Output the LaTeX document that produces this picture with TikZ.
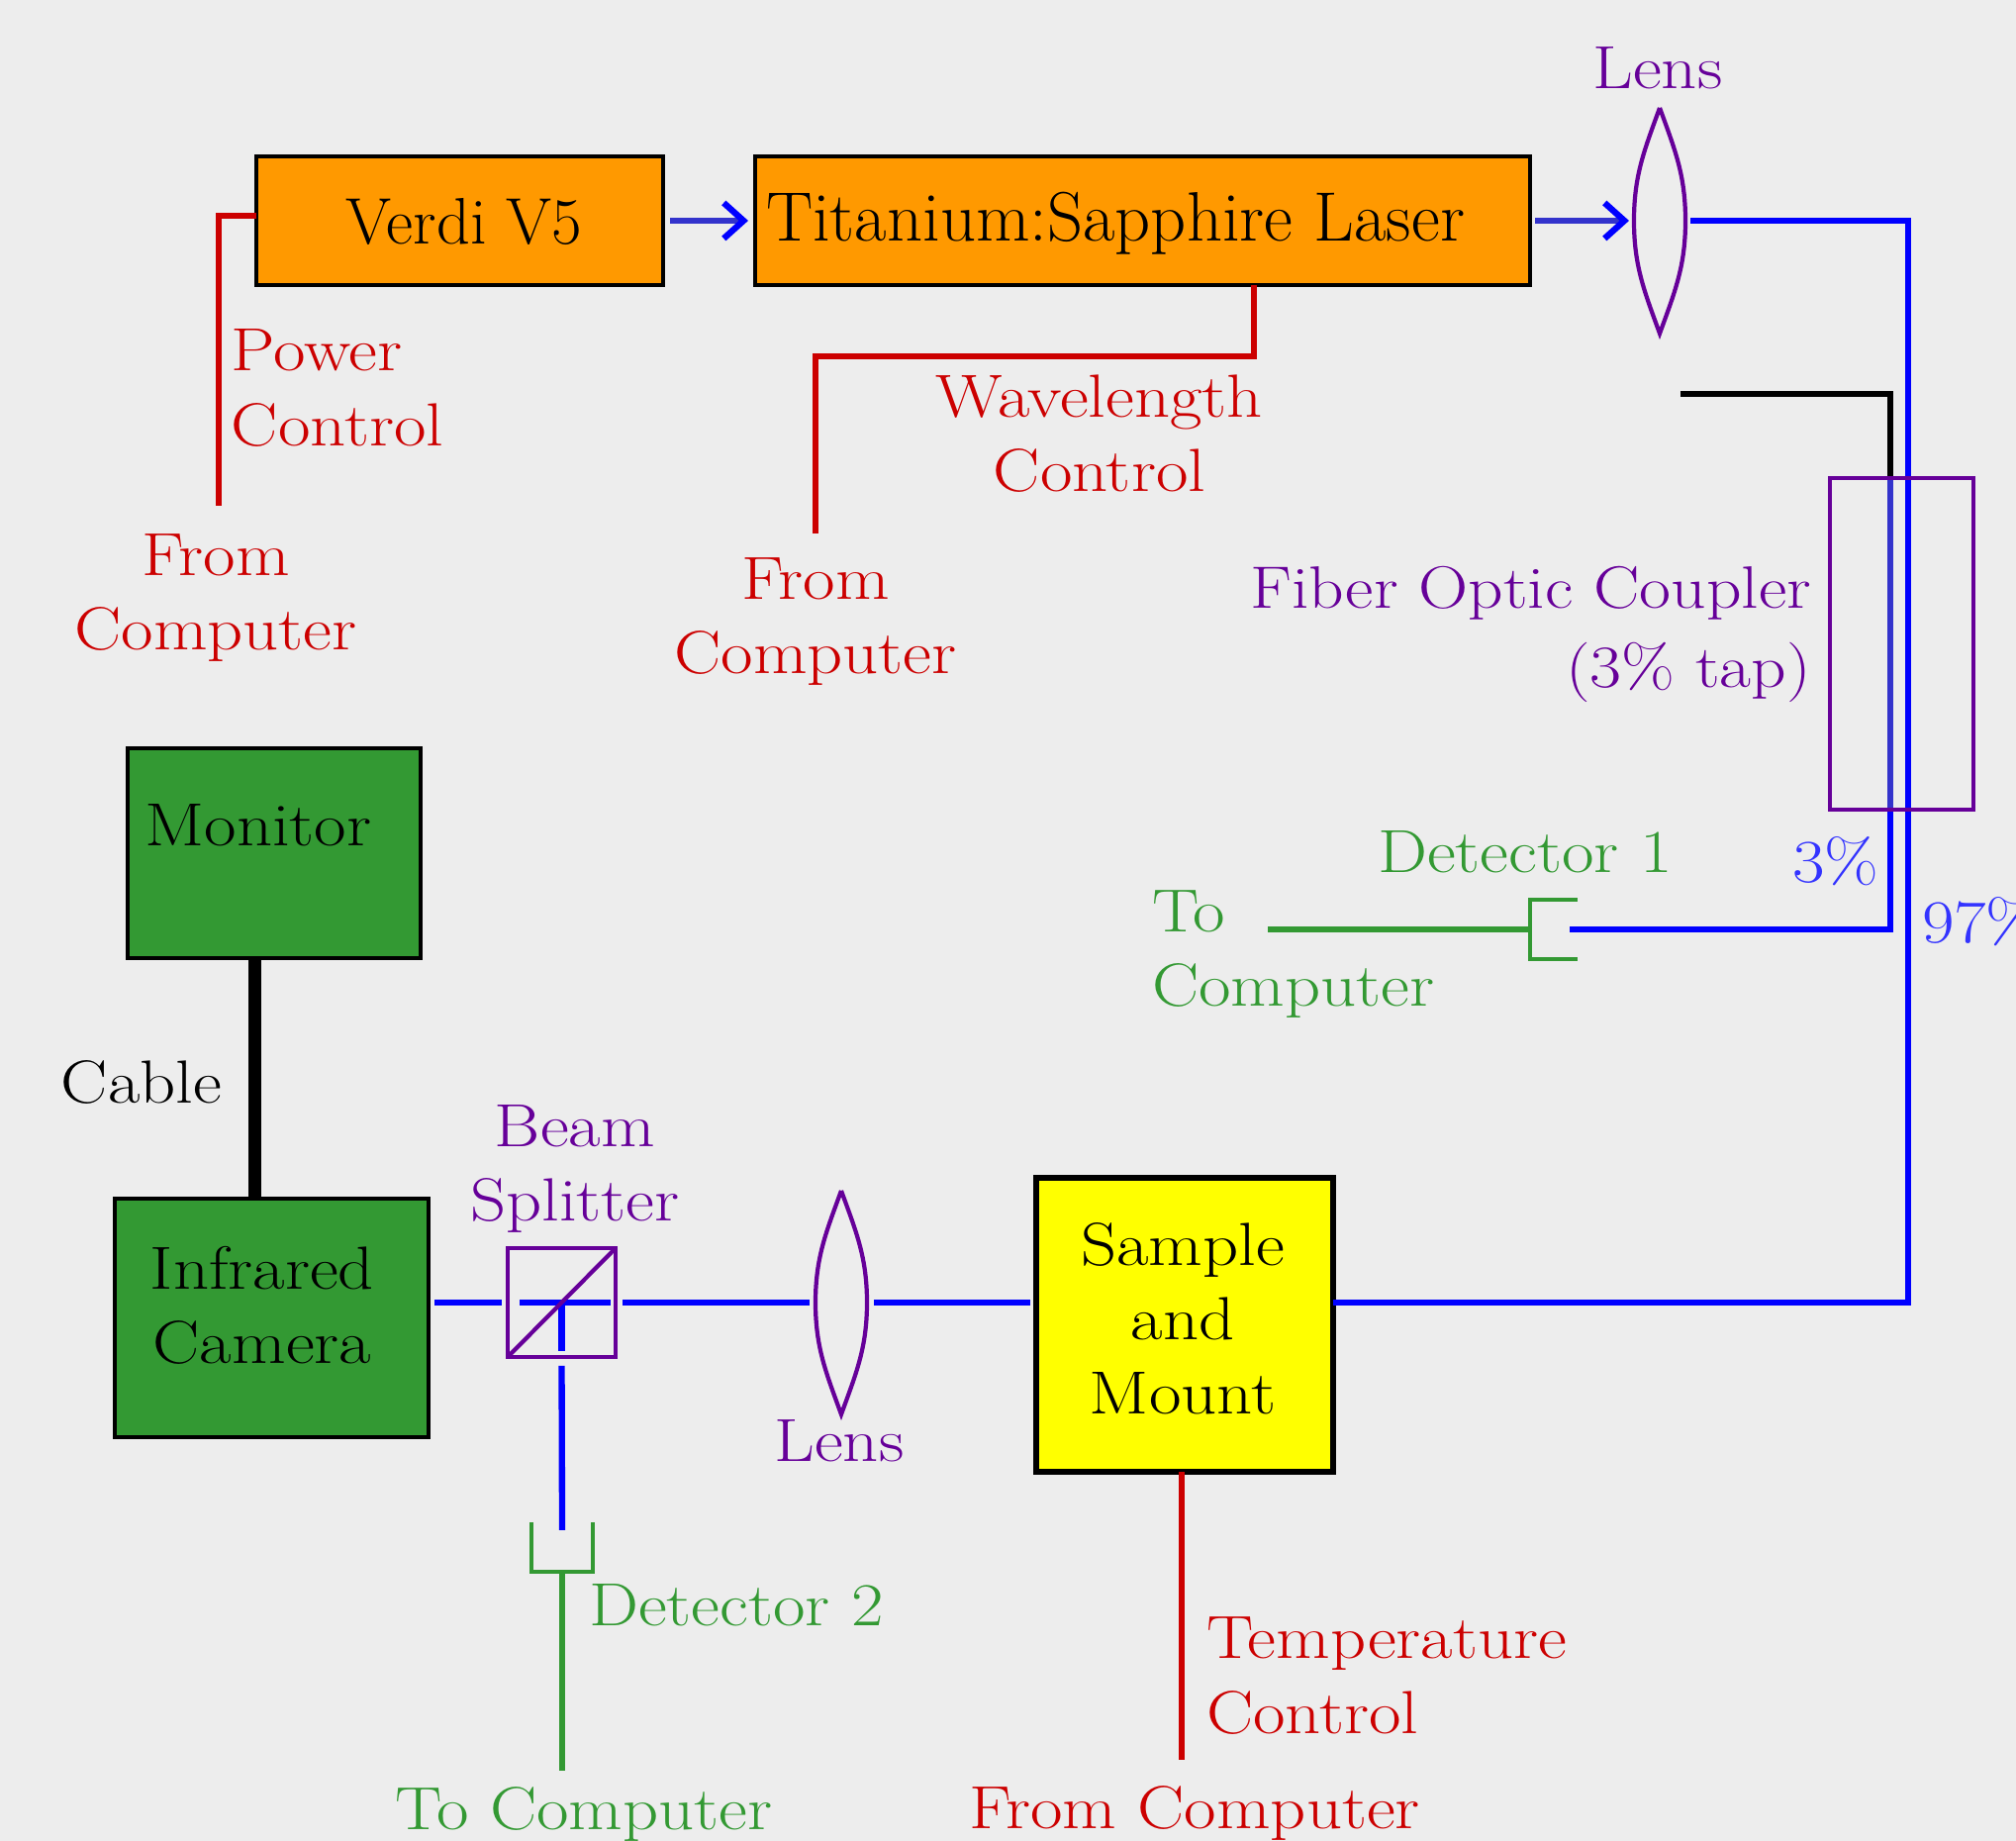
\documentclass[tikz,border=0pt]{standalone}
\usepackage{fontspec}
\setmainfont{Latin Modern Roman}[FakeStretch=1.15]
\newfontfamily\boxfont{Latin Modern Roman}
\usetikzlibrary{arrows.meta}

\definecolor{paper}{HTML}{EDEDED}
\definecolor{laser}{HTML}{FF9900}
\definecolor{leaf}{HTML}{339933}
\definecolor{mount}{HTML}{FFFF00}
\definecolor{ctrl}{HTML}{CC0000}
\definecolor{optic}{HTML}{660099}
\definecolor{ray}{HTML}{0000FF}
\definecolor{dimblue}{HTML}{3333CC}
\definecolor{tapblue}{HTML}{3333FF}

\tikzset{
	box/.style = {draw = black, line width = 1.2pt, inner sep = 0, outer sep = 0, align = center, font = \fontsize{17.5}{21.4}\selectfont},
	blank/.style = {inner sep = 0, outer sep = 0},
	txt/.style = {inner sep = 0, outer sep = 0, align = center, font = \fontsize{17.5}{21.4}\selectfont},
	part/.style = {optic, line width = 1.2pt},
	beam/.style = {ray, line width = 1.8pt},
	pump/.style = {dimblue, line width = 1.8pt, -{Straight Barb[length = 0.2cm, width = 0.36cm, color = ray]}},
	wire/.style = {ctrl, line width = 1.8pt},
	sense/.style = {leaf, line width = 1.8pt},
}

\begin{document}
\begin{tikzpicture}

	% Definition

	\def\G{0.06}

	% Page

	\useasboundingbox (0, 0) rectangle (20.37, 18.6);
	\fill [paper] (0, 0) rectangle (20.37, 18.6);

	% Boxes

	\node [box, fill = laser, minimum width = 4.11 cm, minimum height = 1.30 cm] (verdi) at (4.645, 16.37) {};
	\node [box, fill = laser, minimum width = 7.83 cm, minimum height = 1.30 cm] (tisa) at (11.545, 16.37) {};
	\node [box, fill = leaf, minimum width = 2.96 cm, minimum height = 2.12 cm] (monitor) at (2.77, 9.98) {};
	\node [box, fill = leaf, minimum width = 3.17 cm, minimum height = 2.41 cm] (camera) at (2.745, 5.285) {};
	\node [box, fill = mount, line width = 1.8pt, minimum width = 3.00 cm, minimum height = 2.97 cm] (sample) at (11.97, 5.215) {};

	% Optics

	\node [blank, minimum width = 0.52 cm, minimum height = 2.28 cm] (lensTop) at (16.77, 16.37) {};
	\node [blank, minimum width = 0.52 cm, minimum height = 2.26 cm] (lensLow) at (8.50, 5.44) {};
	\node [blank, minimum width = 1.09 cm, minimum height = 1.10 cm] (splitter) at (5.675, 5.44) {};
	\node [blank, minimum width = 1.45 cm, minimum height = 3.35 cm] (coupler) at (19.215, 12.095) {};
	\node [blank, minimum width = 0.48 cm, minimum height = 0.60 cm] (detOne) at (15.70, 9.21) {};
	\node [blank, minimum width = 0.62 cm, minimum height = 0.50 cm] (detTwo) at (5.68, 2.97) {};

	% Free ends

	\coordinate (powerEnd) at (2.21, 13.49);
	\coordinate (waveEnd) at (8.24, 13.21);
	\coordinate (waveMid) at (12.67, 15.00);
	\coordinate (bendTop) at (19.28, 16.37);
	\coordinate (bendLow) at (19.28, 5.44);
	\coordinate (tapEnd) at (16.98, 14.62);
	\coordinate (tapTop) at (19.10, 14.62);
	\coordinate (tapLow) at (19.10, 9.21);
	\coordinate (detOneEnd) at (12.81, 9.21);
	\coordinate (detTwoEnd) at (5.68, 0.71);
	\coordinate (tempEnd) at (11.94, 0.82);
	\coordinate (cableMid) at (2.57, 7.70);

	% Control lines

	\draw [wire] ([yshift = 0.05 cm] verdi.west) -| (powerEnd);
	\draw [wire] (tisa.south -| waveMid) -- (waveMid) -| (waveEnd);
	\draw [wire] (sample.south -| tempEnd) -- (tempEnd);
	\draw [black, line width = 3.7pt] (monitor.south -| cableMid) -- (camera.north -| cableMid);

	% Beams

	\draw [pump, shorten <= 0.07 cm, shorten >= 0.07 cm] (verdi.east) -- (tisa.west);
	\draw [pump, shorten <= 0.05 cm, shorten >= 0.05 cm] (tisa.east) -- (lensTop.west);
	\draw [beam, shorten <= 0.05 cm] (lensTop.east) -- (bendTop) -- (bendLow) -- (bendLow -| sample.east);
	\draw [beam, shorten <= \G cm, shorten >= \G cm] (splitter.west -| camera.east) -- (splitter.west);
	\draw [beam, shorten <= 0.12 cm, shorten >= 0.05 cm] (splitter.west) -- (splitter.east);
	\draw [beam, shorten <= 0.07 cm, shorten >= \G cm] (splitter.east) -- (lensLow.west);
	\draw [beam, shorten <= 0.07 cm, shorten >= \G cm] (lensLow.east) -- (lensLow.east -| sample.west);
	\draw [beam, shorten >= 0.06 cm] (splitter.center) -- (splitter.south);
	\draw [beam, shorten <= 0.09 cm, shorten >= -0.08 cm] (splitter.south) -- (detTwo.north);

	% Tap fiber

	\draw [black, line width = 1.8pt] (tapEnd) -- (tapTop) -- (tapTop |- coupler.north);
	\draw [dimblue, line width = 1.8pt] (tapTop |- coupler.north) -- (tapTop |- coupler.south);
	\draw [beam, shorten >= -0.08 cm] (tapTop |- coupler.south) -- (tapLow) -- (detOne.east);

	% Detectors

	\draw [sense] (detOneEnd) -- (detOne.west);
	\draw [sense] (detTwo.south) -- (detTwoEnd);
	\draw [sense, line width = 1.2pt] (detOne.north east) -- (detOne.north west) -- (detOne.south west) -- (detOne.south east);
	\draw [sense, line width = 1.2pt] (detTwo.north west) -- (detTwo.south west) -- (detTwo.south east) -- (detTwo.north east);

	% Optic parts

	\draw [part] (lensTop.north) to [out = -110, in = 90] (lensTop.west) to [out = -90, in = 110] (lensTop.south) to [out = 70, in = -90] (lensTop.east) to [out = 90, in = -70] (lensTop.north);
	\draw [part] (lensLow.north) to [out = -110, in = 90] (lensLow.west) to [out = -90, in = 110] (lensLow.south) to [out = 70, in = -90] (lensLow.east) to [out = 90, in = -70] (lensLow.north);
	\draw [part] (splitter.south west) rectangle (splitter.north east);
	\draw [part] (splitter.south west) -- (splitter.north east);
	\draw [part] (coupler.south west) rectangle (coupler.north east);

	% Labels

	\node [txt, font = \fontsize{18.9}{21.4}\selectfont\boxfont] (verdiText) at (4.69, 16.36) {Verdi V5};
	\node [txt, font = \fontsize{20.1}{21.4}\selectfont\boxfont] (tisaText) at (11.27, 16.34) {Titanium:Sapphire Laser};
	\node [txt] (monitorText) at (2.61, 10.26) {Monitor};
	\node [txt] (cameraText) at (2.65, 5.41) {Infrared\\Camera};
	\node [txt] (sampleText) at (11.95, 5.28) {Sample\\and\\Mount};
	\node [txt] (cableText) at (1.43, 7.66) {Cable};
	\node [txt, optic] (lensTopText) at (16.75, 17.91) {Lens};
	\node [txt, optic] (lensLowText) at (8.48, 4.04) {Lens};
	\node [txt, optic] (splitterText) at (5.81, 6.79) {Beam\\Splitter};
	\node [txt, optic, anchor = east, align = right, font = \fontsize{17.2}{22.5}\selectfont] (couplerText) at (18.30, 12.19) {Fiber Optic Coupler\\(3\% tap)};
	\node [txt, ctrl, anchor = west, align = left] (powerText) at (2.34, 14.68) {Power\\Control};
	\node [txt, ctrl] (powerFrom) at (2.18, 12.56) {From\\Computer};
	\node [txt, ctrl] (waveText) at (11.11, 14.22) {Wavelength\\Control};
	\node [txt, ctrl] (waveFrom) at (8.24, 12.32) {From\\Computer};
	\node [txt, ctrl, anchor = west, align = left] (tempText) at (12.19, 1.67) {Temperature\\Control};
	\node [txt, ctrl] (tempFrom) at (12.07, 0.28) {From Computer};
	\node [txt, leaf] (detOneText) at (15.41, 9.99) {Detector 1};
	\node [txt, leaf, anchor = west, align = left] (detOneTo) at (11.64, 8.96) {To\\Computer};
	\node [txt, leaf] (detTwoText) at (7.44, 2.38) {Detector 2};
	\node [txt, leaf] (detTwoTo) at (5.90, 0.27) {To Computer};
	\node [txt, tapblue] (tapText) at (18.55, 9.90) {3\%};
	\node [txt, tapblue, anchor = west] (mainText) at (19.42, 9.29) {97\%};

\end{tikzpicture}
\end{document}
